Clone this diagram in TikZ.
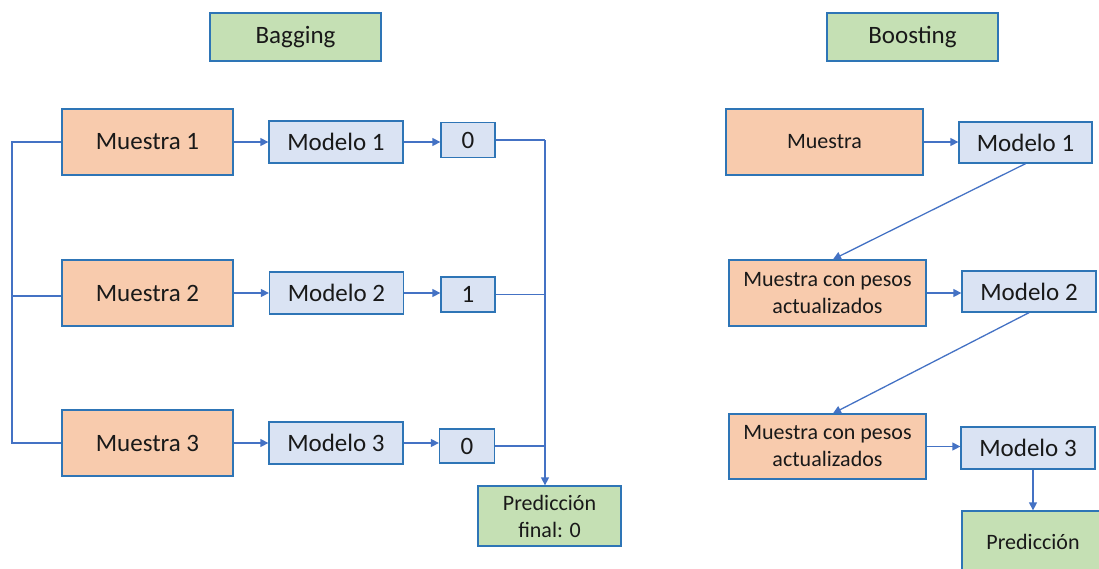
\documentclass[tikz,border=0pt]{standalone}
\usepackage{fontspec}
\setmainfont{Carlito}
\usetikzlibrary{arrows.meta}
\definecolor{bordc}{HTML}{2E75B6}
\definecolor{linec}{HTML}{4472C4}
\definecolor{orangef}{HTML}{F8CBAD}
\definecolor{bluef}{HTML}{DAE3F3}
\definecolor{greenf}{HTML}{C5E0B4}
\tikzset{
  box/.style={draw=bordc, line width=1.3pt, rectangle, inner sep=0pt, align=center, text=black!90},
  big/.style={font=\fontsize{25}{30}\selectfont},
  small/.style={font=\fontsize{22}{27}\selectfont},
  obox/.style={box, fill=orangef},
  bbox/.style={box, fill=bluef},
  gbox/.style={box, fill=greenf},
  conn/.style={draw=linec, line width=1.3pt},
  arr/.style={conn, -{Triangle[length=8pt,width=8pt]}}
}
\begin{document}
\begin{tikzpicture}[x=1pt,y=-1pt]
\useasboundingbox (0,0) rectangle (1099,568);
\clip (0,0) rectangle (1099,568);
% Bagging
\node[gbox,big,minimum width=171pt,minimum height=48pt] (bag) at (295.5,37) {Bagging};
\node[obox,big,minimum width=171pt,minimum height=66pt] (m1) at (147.5,142) {Muestra 1};
\node[obox,big,minimum width=171pt,minimum height=66pt] (m2) at (147.5,293) {Muestra 2};
\node[obox,big,minimum width=171pt,minimum height=66pt] (m3) at (147.5,443) {Muestra 3};
\node[bbox,big,minimum width=134pt,minimum height=42pt] (md1) at (336,142) {Modelo 1};
\node[bbox,big,minimum width=134pt,minimum height=42pt] (md2) at (336.5,293) {Modelo 2};
\node[bbox,big,minimum width=134pt,minimum height=42pt] (md3) at (336,443) {Modelo 3};
\node[bbox,big,minimum width=54pt,minimum height=35pt] (o1) at (468,140) {0};
\node[bbox,big,minimum width=54pt,minimum height=35pt] (o2) at (468,294.5) {1};
\node[bbox,big,minimum width=55pt,minimum height=34pt] (o3) at (467,446) {0};
\node[gbox,small,minimum width=143pt,minimum height=60pt] (pf) at (549.5,516) {Predicción\\final: 0};
\coordinate (L) at (12,142);
\coordinate (J) at (545,140);
\draw[conn] (m1.west) -- (m1.west -| L) -- (m3.west -| L) -- (m3.west);
\draw[conn] ([yshift=-3pt]m2.west) -- ([yshift=-3pt]m2.west -| L);
\draw[arr] (m1) -- (md1);
\draw[arr] (m2) -- (md2);
\draw[arr] (md3) -- (md3 -| o3.west);
\draw[arr] (md1) -- (md1 -| o1.west);
\draw[arr] (md2) -- (md2 -| o2.west);
\draw[arr] (m3) -- (md3);
\draw[conn] (o1.east) -- (J);
\draw[conn] (o2.east) -- (o2.east -| J);
\draw[conn] (o3.east) -- (o3.east -| J);
\draw[arr] (J) -- (J |- pf.north);
% Boosting
\node[gbox,big,minimum width=171pt,minimum height=48pt] (boo) at (912.5,37) {Boosting};
\node[obox,small,minimum width=197pt,minimum height=66pt] (bm) at (824.5,142) {Muestra};
\node[bbox,big,minimum width=133pt,minimum height=41pt] (bmd1) at (1025.5,142.5) {Modelo 1};
\node[obox,small,minimum width=197pt,minimum height=66pt] (bp1) at (827.5,293) {Muestra con pesos\\actualizados};
\node[bbox,big,minimum width=134pt,minimum height=41pt] (bmd2) at (1029,291.5) {Modelo 2};
\node[obox,small,minimum width=197pt,minimum height=65pt] (bp2) at (827.5,446.5) {Muestra con pesos\\actualizados};
\node[bbox,big,minimum width=134pt,minimum height=42pt] (bmd3) at (1028,448) {Modelo 3};
\node[gbox,small,minimum width=142pt,minimum height=61pt] (bpred) at (1033,541.5) {Predicción};
\draw[arr] (bm.east) -- (bm.east -| bmd1.west);
\draw[arr] (bp1.east) -- (bp1.east -| bmd2.west);
\draw[arr] (bp2.east) -- (bp2.east -| bmd3.west);
\draw[arr] (bmd1.south) -- ([xshift=5.5pt]bp1.north);
\draw[arr] (bmd2.south) -- ([xshift=5.5pt]bp2.north);
\draw[arr] (bmd3.south -| bpred.north) -- (bpred.north);
\end{tikzpicture}
\end{document}
